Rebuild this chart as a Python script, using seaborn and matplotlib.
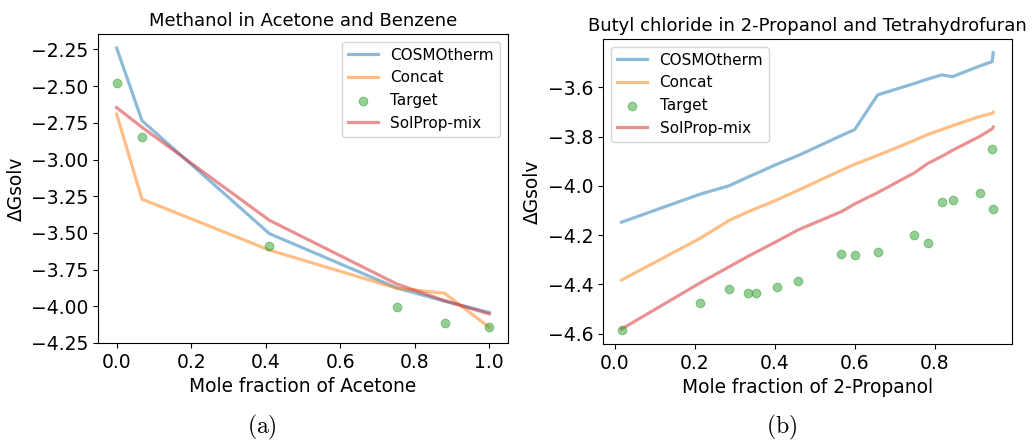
import matplotlib
matplotlib.use("Agg")
import matplotlib.pyplot as plt
import seaborn as sns
import numpy as np

# Panel (a): Methanol in Acetone and Benzene
x_a = [0.0, 0.068, 0.41, 0.752, 0.88, 1.0]
cosmo_a = [-2.24, -2.735, -3.505, -3.875, -3.965, -4.042]
concat_a = [-2.69, -3.27, -3.617, -3.877, -3.911, -4.144]
target_a = [-2.476, -2.849, -3.588, -4.002, -4.112, -4.142]
solprop_a = [-2.646, -2.78, -3.414, -3.848, -3.961, -4.052]

# Panel (b): Butyl chloride in 2-Propanol and Tetrahydrofuran
x_b = [0.0167, 0.214, 0.286, 0.334, 0.354, 0.405, 0.459, 0.567, 0.600,
       0.6575, 0.749, 0.7825, 0.8175, 0.845, 0.9125, 0.944, 0.9467]
cosmo_b = [-4.147, -4.033, -3.999, -3.963, -3.949, -3.912, -3.876, -3.795, -3.771,
           -3.630, -3.584, -3.566, -3.549, -3.556, -3.513, -3.495, -3.459]
concat_b = [-4.382, -4.212, -4.140, -4.104, -4.091, -4.057, -4.017, -3.936, -3.912,
            -3.876, -3.815, -3.791, -3.771, -3.755, -3.718, -3.705, -3.700]
target_b = [-4.585, -4.474, -4.417, -4.435, -4.436, -4.412, -4.386, -4.277, -4.279,
            -4.267, -4.201, -4.233, -4.064, -4.056, -4.027, -3.851, -4.095]
solprop_b = [-4.581, -4.393, -4.328, -4.285, -4.268, -4.225, -4.178, -4.104, -4.073,
             -4.027, -3.947, -3.909, -3.880, -3.855, -3.799, -3.768, -3.761]

titles = ["Methanol in Acetone and Benzene", "Butyl chloride in 2-Propanol and Tetrahydrofuran"]
xlabels = ["Mole fraction of Acetone", "Mole fraction of 2-Propanol"]
captions = ["(a)", "(b)"]

plt.rcParams["mathtext.fontset"] = "cm"

fig = plt.figure(figsize=(10.35, 4.42), dpi=100)
ax_a = fig.add_axes([0.0947, 0.224, 0.396, 0.699])
ax_b = fig.add_axes([0.5826, 0.222, 0.395, 0.690])

colors = sns.color_palette("tab10")
panels = [
    (ax_a, x_a, cosmo_a, concat_a, target_a, solprop_a, "upper right"),
    (ax_b, x_b, cosmo_b, concat_b, target_b, solprop_b, "upper left"),
]

for i, (ax, x, cosmo, concat, target, solprop, loc) in enumerate(panels):
    sns.lineplot(x=x, y=cosmo, ax=ax, color=colors[0], alpha=0.5, linewidth=2.3,
                 label="COSMOtherm", sort=False)
    sns.lineplot(x=x, y=concat, ax=ax, color=colors[1], alpha=0.5, linewidth=2.3,
                 label="Concat", sort=False)
    sns.scatterplot(x=x, y=target, ax=ax, color=colors[2], alpha=0.5, s=38,
                    linewidth=0.8, edgecolor=colors[2], label="Target", zorder=3)
    sns.lineplot(x=x, y=solprop, ax=ax, color=colors[3], alpha=0.5, linewidth=2.3,
                 label="SolProp-mix", sort=False)
    ax.set_title(titles[i], fontsize=13)
    ax.set_xlabel(xlabels[i], fontsize=13.4)
    ax.set_ylabel("ΔGsolv", fontsize=13.4)
    ax.tick_params(labelsize=13.5)
    ax.legend(loc=loc, fontsize=11)

ax_a.set_xticks([0.0, 0.2, 0.4, 0.6, 0.8, 1.0])
ax_b.set_xticks([0.0, 0.2, 0.4, 0.6, 0.8])
ax_a.set_yticks(np.arange(-4.25, -2.24, 0.25))
ax_b.set_yticks([-4.6, -4.4, -4.2, -4.0, -3.8, -3.6])

for cx, cap in zip([0.253, 0.755], captions):
    fig.text(cx, 0.032, r"$\mathrm{" + cap + "}$", ha="center", va="center", fontsize=17)

fig.savefig("out.png", dpi=100)
